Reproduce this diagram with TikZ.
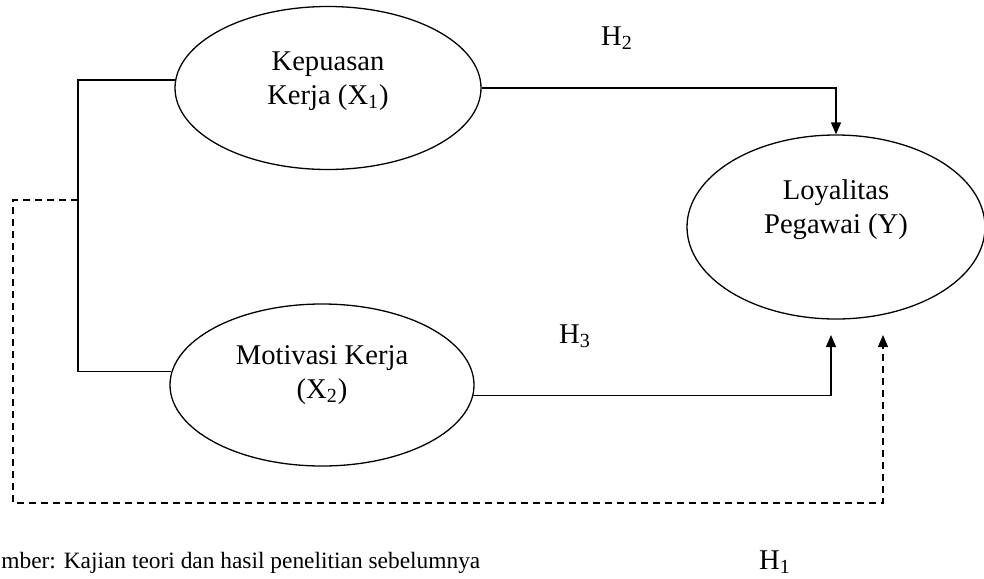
\documentclass[tikz,border=0pt]{standalone}
\usepackage{fontspec}
\setmainfont{Liberation Serif}
\usepackage{tikz}
\usetikzlibrary{arrows.meta,positioning,calc,shapes.geometric}

\begin{document}
\begin{tikzpicture}[x=0.5pt,y=-0.5pt,>={Triangle[length=6pt,width=5pt]},
var/.style={draw,ellipse,line width=0.65pt,minimum width=153pt,minimum height=81.5pt,inner sep=0pt},
txt/.style={align=center,font=\fontsize{14.3}{17}\selectfont},
link/.style={line width=0.65pt},
hyp/.style={->,line width=0.65pt},
hypdash/.style={->,line width=0.65pt,dash pattern=on 3.5pt off 2.5pt}]
\useasboundingbox (0,0) rectangle (984,578);
\node[var] (x1) at (328,88) {};
\node[var,minimum width=152pt,minimum height=81pt] (x2) at (322,385) {};
\node[var,minimum width=149pt,minimum height=92pt] (y) at (836,227) {};
\node[txt] (x1t) at ([yshift=3.5pt]x1.center) {Kepuasan\\Kerja (X\textsubscript{1})};
\node[txt] (x2t) at ([yshift=5pt]x2.center) {Motivasi Kerja\\(X\textsubscript{2})};
\node[txt] (yt) at ([yshift=8.5pt]y.center) {Loyalitas\\Pegawai (Y)};
\node[txt] (h2) at (617,38) {H\textsubscript{2}};
\node[txt] (h3) at (575,336) {H\textsubscript{3}};
\node[txt] (h1) at (775,562) {H\textsubscript{1}};
\node[txt,anchor=west,inner xsep=0pt,font=\fontsize{11.7}{14}\selectfont] (src) at (1,563) {mber: Kajian teori dan hasil penelitian sebelumnya};
\coordinate (jx) at (78,200);
\coordinate (dl) at (13,503);
\coordinate (h3tip) at (831,335);
\coordinate (h1tip) at (883,335);
\draw[link] (x1.177) -| (jx) |- (x2.175);
\draw[hyp] (x1.east) -| (y.north);
\draw[hyp] (x2.-4) -| (h3tip);
\draw[hypdash] (jx) -| (dl) -| (h1tip);
\end{tikzpicture}
\end{document}
